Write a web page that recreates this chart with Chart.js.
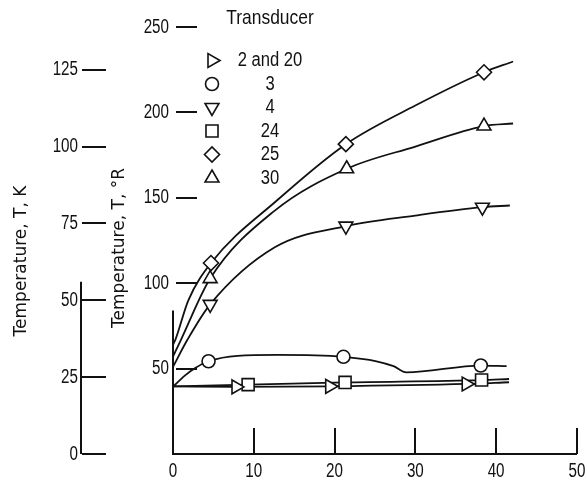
<!DOCTYPE html>
<html>
<head>
<meta charset="utf-8">
<script src="https://cdn.jsdelivr.net/npm/chart.js@4.4.1/dist/chart.umd.min.js"></script>
<style>
  html, body { margin: 0; padding: 0; background: #fff; }
  #wrap { width: 587px; height: 483px; position: relative; }
</style>
</head>
<body>
<div id="wrap"><canvas id="tempChart"></canvas></div>
<script>
// Transducer temperature (deg R) against time
const transducers = ['2 and 20', '3', '4', '24', '25', '30'];

// measured points
const t2x = [7.8, 19.4, 36.3];       const t2y = [39.3, 39.6, 41.0];
const t3x = [4.4, 21.1, 38.1];       const t3y = [54.3, 56.9, 51.8];
const t4x = [4.6, 21.4, 38.3];       const t4y = [87.6, 133.4, 144.5];
const t24x = [9.3, 21.3, 38.2];      const t24y = [40.6, 41.9, 43.3];
const t25x = [4.7, 21.4, 38.5];      const t25y = [111.8, 181.4, 223.5];
const t30x = [4.6, 21.5, 38.5];      const t30y = [102.7, 167.0, 192.0];

// faired curves through the points
const c2x = [0, 7.8, 19.4, 36.3, 41.6];
const c2y = [39.6, 39.3, 39.6, 41.0, 42.0];
const c3x = [0, 1.5, 2.8, 4.4, 8, 13, 21.1, 25.2, 27.3, 28.9, 38.1, 41.3];
const c3y = [39.3, 46.0, 50.5, 54.3, 57.5, 58.0, 56.9, 54.3, 51.4, 47.8, 51.8, 51.4];
const c4x = [0, 1.8, 4.6, 12.6, 21.4, 30, 38.3, 41.7];
const c4y = [51.0, 67.0, 87.6, 121.0, 133.4, 139.6, 144.5, 145.5];
const c24x = [0, 9.3, 21.3, 38.2, 41.6];
const c24y = [39.6, 40.6, 41.9, 43.3, 43.9];
const c25x = [0, 0.3, 1.9, 4.7, 13, 21.4, 30, 38.5, 42.1];
const c25y = [64.0, 67.0, 90.0, 111.8, 149.0, 181.4, 204.0, 223.5, 229.8];
const c30x = [0, 1.0, 4.6, 12.6, 21.5, 30, 38.5, 42.1];
const c30y = [57.0, 67.0, 102.7, 142.5, 167.0, 180.0, 192.0, 193.5];

// axis ticks
const timeTicks = [0, 10, 20, 30, 40, 50];
const rankineTicks = [50, 100, 150, 200, 250];
const kelvinTicks = [0, 25, 50, 75, 100, 125];
const rankineStubTop = 84;   // short left axis line, deg R
const kelvinStubTop = 56;    // short K axis line, K

const SANS = "'Liberation Sans', Arial, sans-serif";
const WIDE = "'DejaVu Sans', sans-serif";
const INK = '#111';

const markers = [
  { style: 'triangle', rot: 90, r: 8 },
  { style: 'circle', rot: 0, r: 6.5 },
  { style: 'triangle', rot: 180, r: 8 },
  { style: 'rect', rot: 0, r: 8.5 },
  { style: 'rectRot', rot: 0, r: 7.5 },
  { style: 'triangle', rot: 0, r: 8 }
];

const series = [
  { px: t2x, py: t2y, cx: c2x, cy: c2y },
  { px: t3x, py: t3y, cx: c3x, cy: c3y },
  { px: t4x, py: t4y, cx: c4x, cy: c4y },
  { px: t24x, py: t24y, cx: c24x, cy: c24y },
  { px: t25x, py: t25y, cx: c25x, cy: c25y },
  { px: t30x, py: t30y, cx: c30x, cy: c30y }
];

const toXY = (xs, ys) => xs.map((v, i) => ({ x: v, y: ys[i] }));

const datasets = [];
series.forEach((s, i) => {
  datasets.push({
    label: transducers[i] + ' curve',
    data: toXY(s.cx, s.cy),
    showLine: true,
    borderColor: INK,
    borderWidth: 1.8,
    pointRadius: 0,
    cubicInterpolationMode: 'monotone',
    yAxisID: 'yR',
    order: 2
  });
  datasets.push({
    label: transducers[i],
    data: toXY(s.px, s.py),
    showLine: false,
    pointStyle: markers[i].style,
    pointRotation: markers[i].rot,
    pointRadius: markers[i].r,
    pointBackgroundColor: '#fff',
    pointBorderColor: INK,
    pointBorderWidth: 1.6,
    yAxisID: 'yR',
    order: 1
  });
});

// condensed lettering: squeeze a regular sans sideways
function narrowText(ctx, text, x, y, align, size, squeeze) {
  ctx.save();
  ctx.font = size + 'px ' + SANS;
  ctx.translate(x, y);
  ctx.scale(squeeze, 1);
  ctx.textAlign = align;
  ctx.textBaseline = 'middle';
  ctx.fillText(text, 0, 0);
  ctx.restore();
}

// tick marks, labels, partial axis lines, axis titles and the key
const axisDecor = {
  id: 'axisDecor',
  afterDraw(chart) {
    const ctx = chart.ctx;
    const { x, yR, yK } = chart.scales;
    const area = chart.chartArea;
    const kx = 81;
    ctx.save();
    ctx.strokeStyle = INK;
    ctx.lineWidth = 2;
    ctx.beginPath();
    x.ticks.forEach(t => {
      if (t.value === 0) return;
      const px = Math.round(x.getPixelForValue(t.value));
      ctx.moveTo(px, area.bottom);
      ctx.lineTo(px, area.bottom - 26);
    });
    ctx.moveTo(area.left, area.bottom);
    ctx.lineTo(area.left, yR.getPixelForValue(rankineStubTop));
    yR.ticks.forEach(t => {
      const py = Math.round(yR.getPixelForValue(t.value));
      ctx.moveTo(area.left + 3, py);
      ctx.lineTo(area.left + 24, py);
    });
    ctx.moveTo(kx, yK.getPixelForValue(0));
    ctx.lineTo(kx, yK.getPixelForValue(kelvinStubTop));
    yK.ticks.forEach(t => {
      const py = Math.round(yK.getPixelForValue(t.value));
      ctx.moveTo(kx + 1, py);
      ctx.lineTo(kx + 25, py);
    });
    ctx.stroke();

    ctx.fillStyle = INK;
    // tick labels
    x.ticks.forEach(t => narrowText(ctx, String(t.value), x.getPixelForValue(t.value), area.bottom + 17, 'center', 20, 0.76));
    yR.ticks.forEach(t => narrowText(ctx, String(t.value), area.left - 4, yR.getPixelForValue(t.value), 'right', 20, 0.76));
    yK.ticks.forEach(t => narrowText(ctx, String(t.value), kx - 3, yK.getPixelForValue(t.value), 'right', 20, 0.76));

    // axis titles
    ctx.font = '17px ' + WIDE;
    ctx.textAlign = 'center';
    ctx.textBaseline = 'middle';
    [['Temperature, T, K', 22, 261], ['Temperature, T, \u00B0R', 120, 248]].forEach(([txt, tx, ty]) => {
      ctx.save();
      ctx.translate(tx, ty);
      ctx.rotate(-Math.PI / 2);
      ctx.fillText(txt, 0, 0);
      ctx.restore();
    });

    // key
    narrowText(ctx, 'Transducer', 270, 18, 'center', 21, 0.83);
    transducers.forEach((name, i) => {
      const ry = 60.5 + i * 23.5;
      ctx.fillStyle = '#fff';
      ctx.strokeStyle = INK;
      ctx.lineWidth = 1.6;
      Chart.helpers.drawPoint(ctx, {
        pointStyle: markers[i].style,
        rotation: markers[i].rot,
        radius: markers[i].r,
        borderWidth: 1.6
      }, 212, ry);
      ctx.fillStyle = INK;
      narrowText(ctx, name, 270, ry, 'center', 20, 0.83);
    });
    ctx.restore();
  }
};

const noPad = s => { s.paddingLeft = 0; s.paddingRight = 0; s.paddingTop = 0; s.paddingBottom = 0; };

new Chart(document.getElementById('tempChart'), {
  type: 'scatter',
  data: { datasets },
  plugins: [axisDecor],
  options: {
    responsive: true,
    maintainAspectRatio: false,
    animation: false,
    layout: { padding: { top: 27, right: 4, bottom: 0, left: 0 } },
    plugins: { legend: { display: false }, tooltip: { enabled: false } },
    scales: {
      x: {
        type: 'linear',
        min: 0,
        max: 50,
        afterBuildTicks: s => { s.ticks = timeTicks.map(v => ({ value: v })); },
        afterFit: s => { s.height = 29; noPad(s); },
        grid: { display: false, drawTicks: false },
        border: { display: true, color: INK, width: 2 },
        ticks: { display: false }
      },
      yR: {
        type: 'linear',
        position: 'left',
        weight: 0,
        min: 0,
        max: 250,
        afterBuildTicks: s => { s.ticks = rankineTicks.map(v => ({ value: v })); },
        afterFit: s => { s.width = 55; noPad(s); },
        grid: { display: false, drawTicks: false },
        border: { display: false },
        ticks: { display: false }
      },
      yK: {
        type: 'linear',
        position: 'left',
        weight: 1,
        min: 0,
        max: 250 / 1.8,
        afterBuildTicks: s => { s.ticks = kelvinTicks.map(v => ({ value: v })); },
        afterFit: s => { s.width = 118; noPad(s); },
        grid: { display: false, drawTicks: false },
        border: { display: false },
        ticks: { display: false }
      }
    }
  }
});
</script>
</body>
</html>
